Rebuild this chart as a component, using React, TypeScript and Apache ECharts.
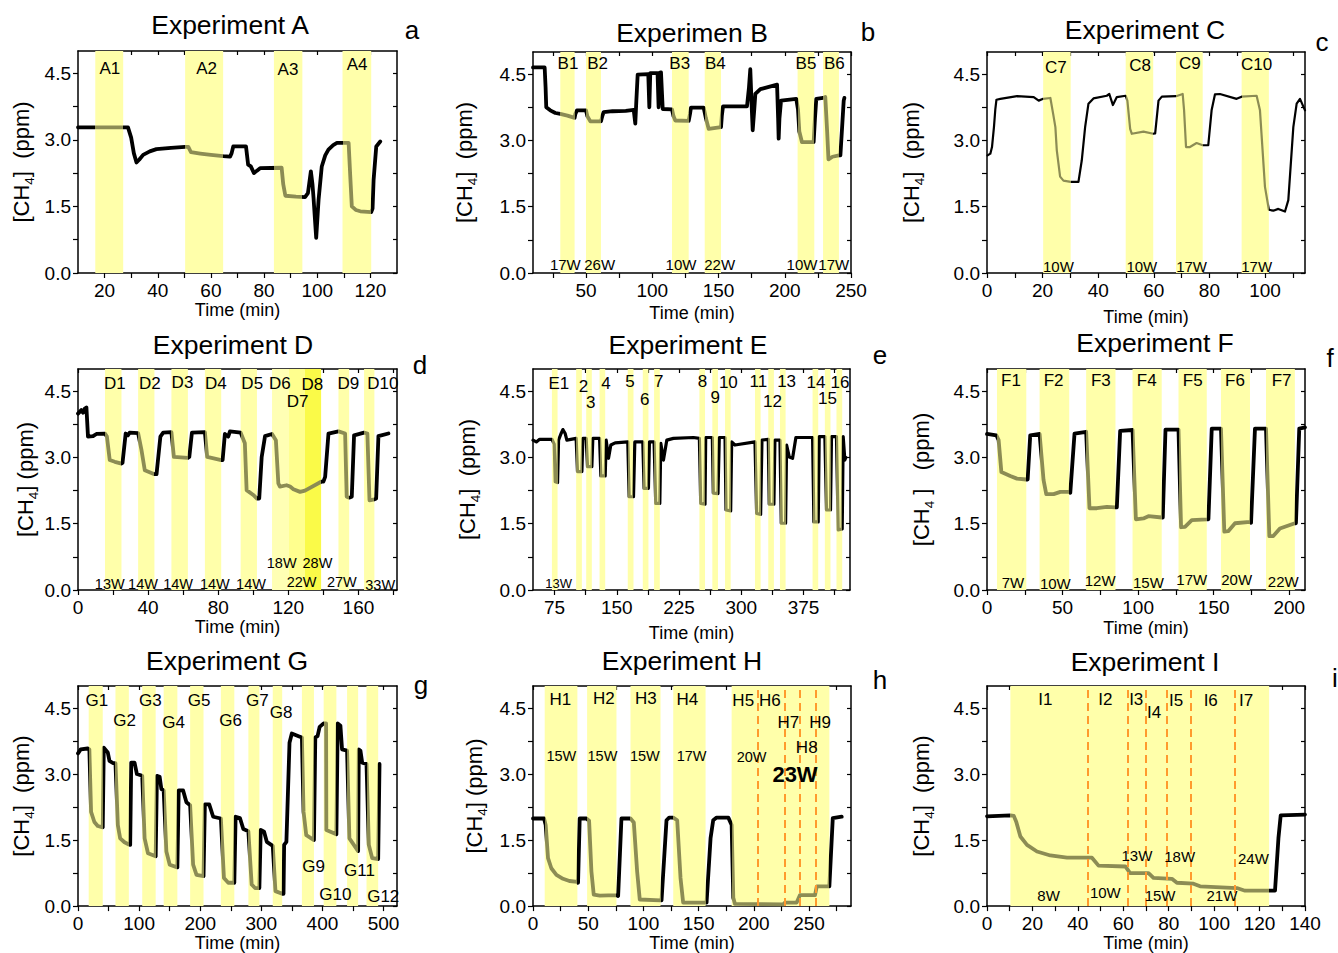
import { useEffect, useRef } from 'react';
import * as echarts from 'echarts';

const FONT = '"Liberation Sans", Arial, Helvetica, sans-serif';
const OLIVE = '#8C8C54';
const BAND = '#FFFFAA';
const DASH = '#FF9A2E';

// ---------- y axis ticks (shared) ----------
const yMajor = [0, 1.5, 3, 4.5];
const yMinor = [0.75, 2.25, 3.75];

// ---------- Experiment A ----------
const traceA: number[][] = [[10,3.28],[28.8,3.28],[30,3.05],[31,2.7],[32,2.49],[33,2.55],[34.5,2.66],[37,2.74],[39.5,2.79],[45,2.82],[50.3,2.84],[51.5,2.84],[52.5,2.72],[56,2.69],[60,2.66],[64.6,2.63],[67.2,2.62],[67.8,2.7],[68.4,2.85],[73.2,2.85],[74,2.44],[75,2.4],[76.2,2.25],[77.2,2.3],[78.5,2.36],[86.6,2.37],[87.2,2.0],[88,1.74],[92,1.72],[95.4,1.71],[96.5,1.8],[97.6,2.29],[98.2,2.0],[98.6,1.69],[99.6,0.79],[100.5,1.65],[101.7,2.4],[103,2.65],[104.2,2.78],[106,2.88],[107.4,2.93],[111.8,2.93],[112.4,2.2],[113,1.5],[114.5,1.42],[116.2,1.39],[120.3,1.37],[120.8,1.45],[121.2,2.1],[122.2,2.85],[123.7,2.96]];
const bandsA = [[16.5,27],[50.3,64.6],[83.7,94.4],[109.5,120.3]];
const namesA: [number, number, string][] = [[22,4.61,'A1'],[58.4,4.61,'A2'],[89,4.58,'A3'],[115,4.69,'A4']];
const wattsA: [number, number, string][] = [];

// ---------- Experiment B ----------
const traceB: number[][] = [[10,4.65],[18.8,4.65],[19.5,4.2],[20,3.75],[23,3.68],[26.9,3.62],[30.6,3.6],[36,3.56],[41.4,3.51],[42,3.6],[43.2,3.68],[50,3.68],[51,3.55],[53.3,3.43],[61.3,3.43],[62.3,3.55],[63.3,3.64],[70,3.66],[80,3.67],[86,3.69],[87.2,3.38],[88,3.9],[89,4.49],[97,4.5],[97.8,3.75],[98.5,4.52],[104,4.52],[104.8,3.75],[105.5,4.53],[106.6,4.54],[107.9,3.71],[114.9,3.7],[116,3.55],[117.4,3.45],[127.5,3.44],[128.5,3.6],[129.2,3.74],[138.8,3.74],[140.5,3.5],[142.6,3.26],[151.9,3.3],[152.5,3.55],[153.4,3.77],[171.5,3.77],[173,4.2],[174,4.61],[175,3.8],[175.8,3.23],[177,3.7],[177.8,4.05],[181.6,4.16],[194.2,4.26],[195,3.5],[195.4,3.04],[196,3.5],[197.2,3.9],[208.7,3.94],[210,3.7],[211,3.2],[213,2.96],[221.8,2.96],[222.8,3.5],[223.8,3.94],[228.9,3.96],[230.6,3.98],[232,3.2],[233,2.57],[236,2.63],[240.9,2.66],[242,2.66],[243.5,3.4],[244.5,3.9],[245,3.96]];
const bandsB = [[30.6,41.4],[50,61.3],[114.9,127.5],[139.6,151.9],[209.7,222.3],[228.9,240.9]];
const namesB: [number, number, string][] = [[36.4,4.74,'B1'],[58.8,4.74,'B2'],[120.7,4.74,'B3'],[147.6,4.74,'B4'],[216,4.74,'B5'],[237.4,4.74,'B6']];
const wattsB: [number, number, string][] = [[34.4,0.19,'17W'],[60.3,0.19,'26W'],[121.7,0.19,'10W'],[150.9,0.19,'22W'],[213,0.19,'10W'],[237,0.19,'17W']];

// ---------- Experiment C ----------
const traceC: number[][] = [[0.2,2.66],[1.2,2.7],[1.8,2.85],[2.5,3.3],[3,3.71],[3.4,3.92],[4.8,3.94],[10.8,4.0],[16.8,3.98],[18.6,3.9],[20.2,3.94],[22.8,3.96],[23.8,3.6],[24.6,3.3],[25.1,2.78],[26.3,2.18],[27.5,2.09],[30.1,2.06],[32.9,2.06],[34.1,2.55],[35.3,3.3],[36.5,3.83],[38.3,3.95],[43.1,4.01],[44,4.05],[45.3,3.8],[46.7,3.98],[49.9,4.01],[50.5,3.9],[51.5,3.26],[52.1,3.15],[56.3,3.2],[59.8,3.15],[60.5,3.16],[61.7,3.9],[62.9,3.99],[68,4.0],[70.4,4.05],[70.9,3.68],[71.6,2.85],[73,2.85],[75.4,2.94],[77.6,2.89],[79.6,2.89],[80.8,3.68],[82,4.04],[83.8,4.05],[89.8,3.94],[91.6,3.99],[97,4.01],[98.2,3.68],[100,1.95],[101.4,1.43],[103,1.41],[104.8,1.45],[107.2,1.39],[108.4,1.65],[110.2,3.3],[111.4,3.83],[112.6,3.94],[114.4,3.68]];
const bandsC = [[20.2,30.1],[49.9,59.8],[68,77.6],[91.6,101.4]];
const namesC: [number, number, string][] = [[24.8,4.65,'C7'],[55.1,4.69,'C8'],[73,4.73,'C9'],[97,4.72,'C10']];
const wattsC: [number, number, string][] = [[25.7,0.15,'10W'],[55.7,0.15,'10W'],[73.6,0.15,'17W'],[97,0.15,'17W']];

// ---------- Experiment D ----------
const traceD: number[][] = [[0,3.99],[1.9,4.07],[2.9,4.01],[3.8,4.1],[4.8,4.13],[5.7,3.47],[8.6,3.48],[10.5,3.53],[15.4,3.54],[16.5,3.47],[18.1,2.94],[21,2.9],[24.8,2.86],[25.4,2.88],[27.2,3.54],[28.5,3.5],[29.5,3.56],[34.3,3.55],[36.2,3.17],[38.1,2.71],[43.6,2.62],[44.8,2.62],[47,3.47],[48.6,3.56],[53.3,3.57],[54.7,3.01],[62.7,2.99],[63.5,3.01],[65,3.56],[72.4,3.57],[73.7,3.01],[81.7,2.94],[82.5,2.94],[83.8,3.53],[85.7,3.47],[86.7,3.59],[92.8,3.56],[95.2,3.32],[96.2,2.26],[100,2.15],[102.1,2.07],[103.4,2.07],[104.8,3.01],[106.7,3.48],[110.7,3.53],[112.9,3.39],[114.3,2.41],[115.2,2.34],[119,2.37],[121,2.34],[122.9,2.28],[126.7,2.22],[129.5,2.25],[138.7,2.45],[140,2.45],[141,2.56],[142.9,3.54],[148.6,3.59],[152.4,3.54],[153.3,2.11],[154.7,2.09],[156.2,2.11],[157.5,3.5],[163.2,3.56],[165.1,3.54],[166.3,2.03],[169.1,2.05],[170.1,2.07],[171.4,3.48],[177.1,3.54]];
const bandsD = [[15.4,24.8],[34.3,43.6],[53.3,62.7],[72.4,81.7],[92.8,102.1],[110.7,120.4],[120.4,129.5],[129.5,138.7],[148.6,154.7],[163.2,169.1]];
const bandColorsD = [BAND, BAND, BAND, BAND, BAND, '#FFFFB4', '#FFFF8E', '#FAFA48', BAND, BAND];
const namesD: [number, number, string][] = [[21,4.67,'D1'],[41,4.67,'D2'],[59.6,4.69,'D3'],[78.7,4.67,'D4'],[99.4,4.67,'D5'],[115.2,4.67,'D6'],[125.3,4.26,'D7'],[133.7,4.66,'D8'],[154.3,4.67,'D9'],[173.9,4.67,'D10']];
const wattsD: [number, number, string][] = [[18.1,0.14,'13W'],[37.1,0.14,'14W'],[57.1,0.14,'14W'],[78.1,0.14,'14W'],[98.7,0.14,'14W'],[116.2,0.6,'18W'],[136.6,0.6,'28W'],[127.6,0.19,'22W'],[150.5,0.19,'27W'],[172.4,0.11,'33W']];

// ---------- Experiment E ----------
const traceE: number[][] = [[49,3.39],[53,3.35],[57,3.41],[71.8,3.41],[74.6,3.3],[75.8,2.45],[78.6,2.43],[79.8,3.39],[82.6,3.53],[85,3.63],[87.8,3.54],[89.8,3.39],[101,3.43],[102.6,2.68],[107.9,2.68],[109.1,3.43],[113.1,3.43],[114.7,2.79],[119.9,2.79],[121.1,3.43],[129.2,3.43],[130.8,2.58],[136,2.58],[137.2,3.39],[140,2.98],[142.8,3.28],[148,3.33],[163.2,3.35],[164.9,2.11],[170.1,2.11],[171.7,3.35],[181.3,3.35],[182.9,2.3],[188.1,2.3],[189.3,3.35],[194.9,3.35],[196.9,1.96],[201.8,1.96],[203,3.32],[206.2,2.94],[210.2,3.39],[218.2,3.43],[242.3,3.45],[249.5,3.43],[251.1,1.96],[256.3,1.94],[257.1,3.45],[265.1,3.45],[266.3,2.19],[271.9,2.18],[273.5,3.45],[280.4,3.45],[281.6,1.81],[287.2,1.79],[288.4,3.35],[292.4,3.28],[316.5,3.35],[318.5,1.73],[323.3,1.71],[324.9,3.39],[332.5,3.41],[333.7,1.94],[339.3,1.94],[340.5,3.39],[346.6,3.39],[348.2,1.51],[353.4,1.51],[354.6,3.28],[357.8,3.01],[361.8,2.98],[365.8,3.45],[385.9,3.45],[387.5,1.54],[392.7,1.54],[393.9,3.47],[400.7,3.47],[402.7,1.81],[407.5,1.81],[408.7,3.47],[414.7,3.47],[416.8,1.36],[421.6,1.38],[422.8,3.47],[424.8,2.94],[426,3.0]];
const bandsE = [[71.8,78.6],[101,107.9],[113.1,119.9],[129.2,136],[163.2,170.1],[181.3,188.1],[194.9,201.8],[249.5,256.3],[265.1,271.9],[280.4,287.2],[316.5,323.3],[332.5,339.3],[346.6,353.4],[385.9,392.7],[400.7,407.5],[414.7,421.6]];
const namesE: [number, number, string][] = [[80.2,4.67,'E1'],[109.9,4.6,'2'],[118.7,4.24,'3'],[136.8,4.67,'4'],[166,4.71,'5'],[183.7,4.3,'6'],[200.6,4.71,'7'],[253.1,4.71,'8'],[268.7,4.35,'9'],[284.4,4.69,'10'],[320.5,4.71,'11'],[337.7,4.27,'12'],[354.6,4.71,'13'],[389.9,4.69,'14'],[403.9,4.33,'15'],[418.8,4.69,'16']];
const wattsE: [number, number, string][] = [[79.8,0.14,'13W']];

// ---------- Experiment F ----------
const traceF: number[][] = [[0,3.53],[6.2,3.5],[7.7,3.39],[9.5,2.67],[15.4,2.58],[19.8,2.52],[26,2.5],[26.9,2.5],[28.6,3.5],[34.8,3.53],[37.4,2.49],[39.2,2.17],[44.1,2.17],[48.5,2.22],[54.4,2.22],[55.1,2.2],[57.9,3.54],[65.6,3.58],[67.8,1.85],[72.7,1.85],[79.3,1.88],[85,1.87],[85.9,1.87],[88.1,3.6],[96.3,3.62],[98.5,1.6],[103.5,1.62],[106.8,1.67],[115.6,1.64],[116.3,1.64],[118.1,3.63],[126.7,3.63],[128.4,1.42],[131,1.43],[135.5,1.58],[145.4,1.6],[146.5,1.6],[148.7,3.65],[154.8,3.65],[157,1.32],[159.6,1.33],[164.1,1.51],[174,1.54],[174.7,1.52],[177.3,3.65],[184.6,3.65],[186.8,1.22],[189.4,1.22],[193.8,1.39],[203.7,1.51],[204.4,1.51],[206.6,3.65],[210.4,3.68]];
const bandsF = [[6.6,26],[34.8,54.4],[65.6,85],[96.3,115.6],[126.7,145.4],[154.8,174],[184.6,203.7]];
const namesF: [number, number, string][] = [[15.9,4.75,'F1'],[44.1,4.75,'F2'],[75.3,4.75,'F3'],[105.7,4.75,'F4'],[136.1,4.75,'F5'],[164.1,4.75,'F6'],[194.9,4.75,'F7']];
const wattsF: [number, number, string][] = [[17.2,0.17,'7W'],[45.2,0.15,'10W'],[74.9,0.21,'12W'],[106.8,0.17,'15W'],[135.5,0.23,'17W'],[165.2,0.24,'20W'],[196,0.19,'22W']];

// ---------- Experiment G ----------
const traceG: number[][] = [[0,3.47],[4.4,3.56],[15.9,3.58],[18.6,3.56],[21.4,2.14],[26.8,1.91],[32.3,1.82],[40.5,1.79],[41,1.79],[42.2,3.6],[48.7,3.49],[51.5,3.3],[57,3.25],[61.3,3.25],[65.2,1.84],[69,1.54],[76.1,1.45],[83.2,1.4],[85.4,1.39],[87.1,3.26],[92.5,3.26],[96.4,3.0],[105.1,2.96],[109,1.54],[114.5,1.2],[127.1,1.13],[128,1.13],[129.2,2.96],[133.6,2.94],[136.4,2.66],[140.2,2.63],[144.6,1.24],[150.1,0.94],[162.6,0.88],[163.5,0.88],[164.8,2.63],[171.9,2.63],[177.4,2.36],[183.5,2.29],[188.4,0.94],[193.9,0.71],[205.4,0.68],[206.5,0.68],[207.6,2.31],[214.7,2.31],[221.2,2.03],[233.8,1.99],[238.8,0.64],[245.9,0.53],[255.8,0.53],[256.8,0.53],[257.9,2.03],[265,2.0],[270.5,1.75],[278.8,1.7],[284.2,0.49],[289.7,0.41],[296.8,0.41],[297.9,0.41],[299,1.73],[304.5,1.69],[308.9,1.46],[318.7,1.37],[323.1,0.34],[334.1,0.28],[336.3,0.28],[337.3,1.39],[341,1.46],[346.1,3.71],[349.9,3.92],[360.9,3.86],[366.4,3.83],[369.1,2.14],[373.5,1.61],[386.1,1.5],[387.2,1.5],[388.3,3.83],[392,3.86],[395.4,4.07],[402,4.15],[406,4.15],[406.4,1.73],[422.8,1.63],[423.8,1.63],[425,4.15],[429.4,4.1],[432.1,3.56],[440.3,3.53],[444.1,1.54],[458.4,1.25],[458.9,1.25],[459.5,3.56],[462.2,3.53],[465,3.26],[472.1,3.23],[475.9,1.39],[481.4,1.09],[491.2,1.07],[492.3,1.07],[493.4,3.23]];
const bandsG = [[17.5,40.5],[61.3,83.2],[105.1,127.1],[140.2,162.6],[183.5,205.4],[233.8,255.8],[278.8,296.8],[318.7,334.1],[366.4,386.1],[402,422.8],[440.3,458.4],[472.1,491.2]];
const namesG: [number, number, string][] = [[30.7,4.67,'G1'],[76.1,4.22,'G2'],[118.3,4.67,'G3'],[156.6,4.16,'G4'],[198.2,4.67,'G5'],[249.7,4.22,'G6'],[293.5,4.68,'G7'],[332.4,4.39,'G8'],[385.5,0.9,'G9'],[421.1,0.26,'G10'],[460.6,0.81,'G11'],[499.5,0.22,'G12']];
const wattsG: [number, number, string][] = [];

// ---------- Experiment H ----------
const traceH: number[][] = [[0,1.99],[10,1.99],[11.5,1.84],[13.6,1.09],[16.6,0.86],[21.2,0.71],[27.2,0.62],[33,0.57],[40.2,0.55],[40.8,0.53],[42.3,1.99],[48.4,1.99],[50.8,1.94],[52.9,0.79],[55,0.26],[60.5,0.24],[75.6,0.25],[77.1,0.23],[80.1,1.99],[88.3,1.99],[91.3,1.9],[94.3,0.79],[96.7,0.15],[115.5,0.13],[116.4,0.13],[120.9,1.95],[123.3,2.01],[127,2.01],[130.6,1.95],[133.6,0.64],[136,0.08],[156.3,0.08],[157.2,0.08],[160.8,1.54],[163.2,1.95],[166.3,2.01],[176.9,2.01],[179.9,1.84],[181.4,0.19],[182.9,0.05],[226.7,0.04],[228.2,0.08],[238.8,0.08],[241.8,0.25],[255.4,0.25],[257,0.45],[268.4,0.45],[269,0.45],[271.5,2.0],[279.6,2.03]];
const bandsH = [[10.6,40.2],[49,75.6],[88.3,115.5],[127,156.3],[179.9,268.4]];
const dashesH = [203.1, 227.6, 241.2, 256.3];
const namesH: [number, number, string][] = [[24.8,4.69,'H1'],[64.1,4.71,'H2'],[102.2,4.72,'H3'],[139.7,4.69,'H4'],[190.4,4.67,'H5'],[214.6,4.67,'H6'],[231.3,4.16,'H7'],[247.9,3.6,'H8'],[260,4.16,'H9']];
const wattsH: [number, number, string][] = [[25.7,3.41,'15W'],[62.9,3.41,'15W'],[101.3,3.41,'15W'],[143.6,3.41,'17W'],[198,3.38,'20W']];
const boldH: [number, number, string][] = [[237.3,3.0,'23W']];

// ---------- Experiment I ----------
const traceI: number[][] = [[0,2.04],[10.3,2.06],[11.8,2.05],[12.9,1.91],[14.7,1.58],[17.6,1.39],[22,1.24],[27.9,1.15],[35.2,1.1],[46.2,1.1],[49.1,0.92],[60.9,0.9],[63,0.75],[71.1,0.75],[73.3,0.64],[81.4,0.62],[83.6,0.53],[90.9,0.51],[93.8,0.45],[110,0.41],[113.6,0.35],[124.2,0.35],[126.8,0.35],[128.3,1.54],[129.3,2.06],[140,2.08]];
const bandsI = [[10.3,124.2]];
const dashesI = [44.3, 62, 70.1, 79, 89.7, 109.2];
const namesI: [number, number, string][] = [[25.7,4.7,'I1'],[52.1,4.7,'I2'],[65.7,4.7,'I3'],[73.6,4.4,'I4'],[83.3,4.67,'I5'],[98.5,4.68,'I6'],[114.1,4.67,'I7']];
const wattsI: [number, number, string][] = [[27.1,0.25,'8W'],[52.1,0.3,'10W'],[66,1.15,'13W'],[76.2,0.23,'15W'],[84.8,1.13,'18W'],[103.4,0.25,'21W'],[117.3,1.09,'24W']];

const range = (a: number, b: number, s: number) => { const r: number[] = []; for (let v = a; v <= b + 1e-9; v += s) r.push(+v.toFixed(3)); return r; };

type Panel = {
  title: string; letter: string; box: number[]; titlePos: number[]; letterPos: number[];
  xMin: number; xMax: number; xMajor: number[]; xMinor: number[];
  trace: number[][]; bands: number[][]; bandColors?: string[]; names: [number, number, string][];
  watts: [number, number, string][]; bold?: [number, number, string][]; dashes?: number[];
  lw: number; xNameGap: number; yNameGap: number; yName: string; nameSize?: number; wattSize?: number;
};

const panels: Panel[] = [
  { title: 'Experiment A', letter: 'a', box: [78, 51, 319, 222], titlePos: [230, 25], letterPos: [412, 30], xMin: 10, xMax: 130, xMajor: range(20, 120, 20), xMinor: range(30, 110, 20), trace: traceA, bands: bandsA, names: namesA, watts: wattsA, lw: 3.8, xNameGap: 28, yNameGap: 42, yName: '[CH{s|4}]  (ppm)' },
  { title: 'Experimen B', letter: 'b', box: [533, 52, 318, 221], titlePos: [692, 33], letterPos: [868, 32], xMin: 10, xMax: 250, xMajor: range(50, 250, 50), xMinor: range(25, 225, 50), trace: traceB, bands: bandsB, names: namesB, watts: wattsB, lw: 3.8, xNameGap: 31, yNameGap: 54, yName: '[CH{s|4}]  (ppm)' },
  { title: 'Experiment C', letter: 'c', box: [987, 52, 318, 221], titlePos: [1145, 30], letterPos: [1322, 42], xMin: 0, xMax: 114.4, xMajor: range(0, 100, 20), xMinor: range(10, 110, 20), trace: traceC, bands: bandsC, names: namesC, watts: wattsC, lw: 2.2, xNameGap: 35, yNameGap: 61, yName: '[CH{s|4}]  (ppm)' },
  { title: 'Experiment D', letter: 'd', box: [78, 369, 319, 221], titlePos: [233, 345], letterPos: [420, 365], xMin: 0, xMax: 182, xMajor: range(0, 160, 40), xMinor: range(20, 180, 40), trace: traceD, bands: bandsD, bandColors: bandColorsD, names: namesD, watts: wattsD, lw: 3.8, xNameGap: 26, yNameGap: 38, yName: '[CH{s|4}] (ppm)', wattSize: 14.5 },
  { title: 'Experiment E', letter: 'e', box: [533, 369, 317, 221], titlePos: [688, 345], letterPos: [880, 355], xMin: 49, xMax: 431, xMajor: range(75, 375, 75), xMinor: range(112.5, 412.5, 75), trace: traceE, bands: bandsE, names: namesE, watts: wattsE, lw: 3.2, xNameGap: 34, yNameGap: 51, yName: '[CH{s|4}]  (ppm)', wattSize: 13 },
  { title: 'Experiment F', letter: 'f', box: [987, 369, 318, 221], titlePos: [1155, 343], letterPos: [1330, 358], xMin: 0, xMax: 210.4, xMajor: range(0, 200, 50), xMinor: range(25, 175, 50), trace: traceF, bands: bandsF, names: namesF, watts: wattsF, lw: 3.8, xNameGap: 29, yNameGap: 51, yName: '[CH{s|4} ]   (ppm)' },
  { title: 'Experiment G', letter: 'g', box: [78, 686, 319, 222], titlePos: [227, 661], letterPos: [421, 685], xMin: 0, xMax: 522, xMajor: range(0, 500, 100), xMinor: range(50, 450, 100), trace: traceG, bands: bandsG, names: namesG, watts: wattsG, lw: 3.8, xNameGap: 26, yNameGap: 42, yName: '[CH{s|4}]  (ppm)' },
  { title: 'Experiment H', letter: 'h', box: [533, 686, 318, 222], titlePos: [682, 661], letterPos: [880, 680], xMin: 0, xMax: 288, xMajor: range(0, 250, 50), xMinor: range(25, 275, 50), trace: traceH, bands: bandsH, names: namesH, watts: wattsH, bold: boldH, dashes: dashesH, lw: 3.8, xNameGap: 25, yNameGap: 44, yName: '[CH{s|4}] (ppm)', wattSize: 14.5 },
  { title: 'Experiment I', letter: 'i', box: [987, 686, 318, 222], titlePos: [1145, 662], letterPos: [1335, 678], xMin: 0, xMax: 140, xMajor: range(0, 140, 20), xMinor: range(10, 130, 20), trace: traceI, bands: bandsI, names: namesI, watts: wattsI, dashes: dashesI, lw: 3.8, xNameGap: 26, yNameGap: 51, yName: '[CH{s|4}]  (ppm)' },
];

function buildOption() {
  const grid: any[] = [];
  const xAxis: any[] = [];
  const yAxis: any[] = [];
  const series: any[] = [];
  const visualMap: any[] = [];
  const elements: any[] = [];
  const axisLine = { show: true, onZero: false, lineStyle: { color: '#000', width: 1.5 } };

  panels.forEach((p, i) => {
    grid.push({ left: p.box[0], top: p.box[1], width: p.box[2], height: p.box[3] });
    xAxis.push({
      type: 'value', gridIndex: i, min: p.xMin, max: p.xMax, position: 'bottom',
      name: 'Time (min)', nameLocation: 'middle', nameGap: p.xNameGap,
      nameTextStyle: { fontSize: 18, color: '#000', fontFamily: FONT },
      axisLine, splitLine: { show: false },
      axisTick: { show: true, inside: false, length: 5, customValues: [...p.xMajor, ...p.xMinor], lineStyle: { color: '#000', width: 1.2 } },
      axisLabel: { show: true, customValues: p.xMajor, interval: 0, fontSize: 19, color: '#000', margin: 8, fontFamily: FONT, formatter: (v: number) => String(v) },
    });
    xAxis.push({
      type: 'value', gridIndex: i, min: p.xMin, max: p.xMax, position: 'top',
      axisLine, splitLine: { show: false }, axisLabel: { show: false },
      axisTick: { show: true, inside: true, length: 4, customValues: [...p.xMajor, ...p.xMinor], lineStyle: { color: '#000', width: 1.2 } },
    });
    yAxis.push({
      type: 'value', gridIndex: i, min: 0, max: 5, position: 'left',
      name: p.yName, nameLocation: 'middle', nameGap: p.yNameGap,
      nameTextStyle: { fontSize: 22, color: '#000', fontFamily: FONT, lineHeight: 29, rich: { s: { fontSize: 13.5, fontFamily: FONT, color: '#000', verticalAlign: 'bottom', lineHeight: 13 } } },
      axisLine, splitLine: { show: false },
      axisTick: { show: true, inside: false, length: 5, customValues: [...yMajor, ...yMinor], lineStyle: { color: '#000', width: 1.2 } },
      axisLabel: { show: true, customValues: yMajor, interval: 0, fontSize: 19, color: '#000', margin: 7, fontFamily: FONT, formatter: (v: number) => v.toFixed(1) },
    });
    yAxis.push({
      type: 'value', gridIndex: i, min: 0, max: 5, position: 'right',
      axisLine, splitLine: { show: false }, axisLabel: { show: false },
      axisTick: { show: true, inside: true, length: 4, customValues: [...yMajor, ...yMinor], lineStyle: { color: '#000', width: 1.2 } },
    });

    const traceIdx = series.length;
    series.push({
      type: 'line', xAxisIndex: 2 * i, yAxisIndex: 2 * i, data: p.trace,
      showSymbol: false, symbol: 'none', z: 3, silent: true,
      lineStyle: { width: p.lw, join: 'round', cap: 'round' },
      markArea: {
        silent: true, z: 1,
        data: p.bands.map((b, k) => [
          { xAxis: b[0], itemStyle: { color: p.bandColors ? p.bandColors[k] : BAND } },
          { xAxis: b[1] },
        ]),
      },
      markLine: p.dashes ? {
        silent: true, symbol: ['none', 'none'], label: { show: false }, z: 4,
        lineStyle: { type: [8, 5], color: DASH, width: 2, opacity: 1 },
        data: p.dashes.map((t) => ({ xAxis: t })),
      } : undefined,
    });
    visualMap.push({
      type: 'piecewise', show: false, seriesIndex: traceIdx, dimension: 0,
      pieces: p.bands.map((b) => ({ gte: b[0], lte: b[1], color: OLIVE })),
      outOfRange: { color: '#000' },
    });

    const lbl = (size: number, bold = false) => ({ show: true, position: 'inside', formatter: '{b}', color: '#000', opacity: 1, textBorderWidth: 0, fontSize: size, fontWeight: bold ? 'bold' : 'normal', fontFamily: FONT });
    const labelData = [
      ...p.names.map(([t, v, s]) => ({ value: [t, v], name: s, label: lbl(p.nameSize || 17) })),
      ...p.watts.map(([t, v, s]) => ({ value: [t, v], name: s, label: lbl(p.wattSize || 15) })),
      ...(p.bold || []).map(([t, v, s]) => ({ value: [t, v], name: s, label: lbl(22, true) })),
    ];
    series.push({
      type: 'scatter', xAxisIndex: 2 * i, yAxisIndex: 2 * i, symbolSize: 1, z: 10, silent: true,
      itemStyle: { color: 'rgba(255,255,255,0)', opacity: 1 }, data: labelData,
    });

    elements.push({ type: 'text', x: p.titlePos[0], y: p.titlePos[1], style: { text: p.title, fontSize: 26.5, fontFamily: FONT, fill: '#000', align: 'center', verticalAlign: 'middle', textAlign: 'center', textVerticalAlign: 'middle' } });
    elements.push({ type: 'text', x: p.letterPos[0], y: p.letterPos[1], style: { text: p.letter, fontSize: 26, fontFamily: FONT, fill: '#000', align: 'center', verticalAlign: 'middle', textAlign: 'center', textVerticalAlign: 'middle' } });
  });

  return {
    animation: false,
    backgroundColor: '#fff',
    textStyle: { fontFamily: FONT },
    grid, xAxis, yAxis, series, visualMap,
    graphic: { elements },
  };
}

export default function App() {
  const ref = useRef<HTMLDivElement>(null);
  useEffect(() => {
    const chart = echarts.init(ref.current as HTMLDivElement, null, { renderer: 'svg' });
    chart.setOption(buildOption() as any);
    return () => chart.dispose();
  }, []);
  return <div ref={ref} style={{ position: 'absolute', left: 0, top: 0, width: 1338, height: 953, background: '#fff' }} />;
}
